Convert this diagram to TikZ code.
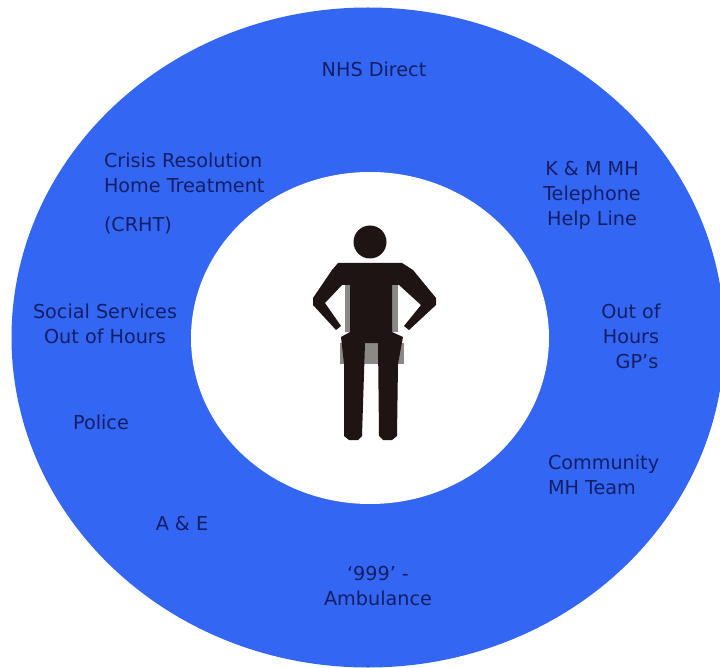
\documentclass[tikz,border=0pt]{standalone}
\usepackage{fontspec}
\setmainfont{DejaVu Sans}
\definecolor{ringblue}{HTML}{3366F2}
\definecolor{labelnavy}{HTML}{141E66}
\definecolor{figblack}{HTML}{1E1414}
\definecolor{figgrey}{HTML}{8C8888}
\tikzset{
  lab/.style={text=labelnavy,font=\fontsize{19.2}{25}\selectfont,inner sep=0pt,outer sep=0pt},
  labc/.style={lab,align=center},
  labl/.style={lab,align=left},
}
\begin{document}
\begin{tikzpicture}[x=1pt,y=-1pt]
\useasboundingbox (0,0) rectangle (720,668);
\clip (0,0) rectangle (720,668);
\fill[ringblue] (368,337.5) ellipse [x radius=356.5,y radius=330];
\fill[white] (370,338) ellipse [x radius=179,y radius=166];
% figure: blurred grey edges
\fill[figgrey] (345,285) rectangle (398,332);
\fill[figgrey] (340,343) rectangle (404,364);
\fill[figblack] (370,242) circle [radius=16.5];
\fill[figblack]
  (338,263) -- (402,263) -- (413,270) -- (436,298) -- (436,305) -- (409,330) -- (404,326)
  -- (421,305) -- (399,285) -- (392,285) -- (392,332) -- (403,337) -- (398,364)
  -- (397,436) -- (392,440) -- (383,440) -- (379,436) -- (378,343) -- (365,343)
  -- (362,436) -- (358,440) -- (349,440) -- (344,436) -- (344,364) -- (341,337)
  -- (350,332) -- (350,285) -- (342,285) -- (325,303) -- (341,326)
  -- (336,330) -- (313,305) -- (313,298) -- (332,270) -- cycle;
% labels
\node[labc] (nhs) at (374,69) {NHS Direct};
\node[labl,anchor=west] (crisis) at (104,172.5) {Crisis Resolution\\Home Treatment};
\node[labl,anchor=west] (crht) at (104,225) {(CRHT)};
\node[labc] (kmh) at (592,195) {K \& M MH\\Telephone\\Help Line};
\node[labc] (social) at (105,323.5) {Social Services\\Out of Hours};
\node[labc] (gps) at (631,336) {Out of\\Hours\\\hspace*{12pt}GP’s};
\node[lab] (police) at (101,422) {Police};
\node[labl,anchor=west] (cmht) at (548,475) {Community\\MH Team};
\node[lab] (ae) at (182,524) {A \& E};
\node[labc] (amb) at (378,586) {‘999’ -\\Ambulance};
\end{tikzpicture}
\end{document}
